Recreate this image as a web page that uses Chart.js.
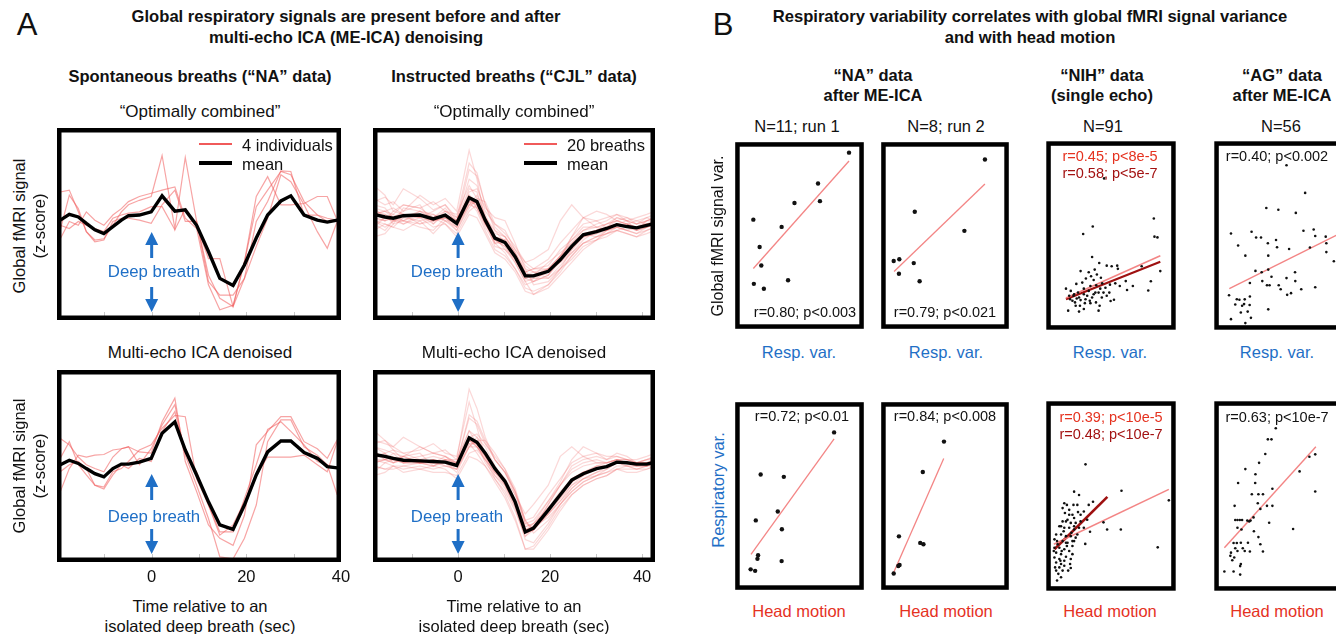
<!DOCTYPE html>
<html>
<head>
<meta charset="utf-8">
<script src="https://cdn.jsdelivr.net/npm/chart.js@4.4.1/dist/chart.umd.min.js"></script>
<style>
  html, body { margin: 0; padding: 0; background: #fff; }
  body { width: 1336px; height: 634px; position: relative; overflow: hidden;
         font-family: 'Liberation Sans', Arial, sans-serif; color: #111; }
  canvas { position: absolute; }
  .t { position: absolute; transform: translate(-50%, -50%); white-space: nowrap; font-size: 15px; line-height: 1; }
  .l { transform: translate(0, -50%); }
  .b { font-weight: bold; }
  .rot { transform: translate(-50%, -50%) rotate(-90deg); }
  .blue { color: #1f6fc6; }
  .red { color: #e5321f; }
  .dred { color: #a31212; }
  .lg { position: absolute; }
</style>
</head>
<body>
<script>
'use strict';
const FONT = "'Liberation Sans', Arial, sans-serif";

// ---------- Panel A data (z-score, time in sec) ----------
let timesNA = [-19.3,-17.4,-15.5,-13.8,-12.0,-10.1,-8.2,-6.4,-4.9,-2.6,-0.1,2.2,4.9,7.1,9.5,12.0,14.4,17.2,19.6,22.1,24.5,27.3,29.4,32.2,35.0,37.1,39.2];
let timesCJL = [-18.3,-15.9,-14.1,-11.9,-8.3,-5.4,-2.8,-0.3,2.4,4.1,5.9,8.0,10.2,12.4,14.6,16.4,19.6,22.2,24.7,27.2,30.1,32.3,34.5,36.7,38.8,41.0,42.8];

let meanNAoc = [0.06,0.15,0.11,0.01,-0.09,-0.15,-0.04,0.06,0.13,0.14,0.19,0.44,0.20,0.22,-0.02,-0.43,-0.85,-0.96,-0.64,-0.22,0.14,0.36,0.44,0.14,0.06,0.03,0.06];
let subjNAoc = [
  [0.50,0.53,0.19,-0.12,-0.25,-0.23,-0.02,0.19,0.30,0.37,0.43,1.07,-0.07,1.04,0.04,-0.80,-1.16,-1.29,-0.59,0.43,0.74,0.30,0.30,0.32,0.43,0.43,0.06],
  [-0.23,0.04,-0.02,0.19,0.06,-0.02,0.14,0.24,0.35,0.43,0.48,0.53,0.58,0.09,-0.07,-0.95,-1.34,-1.27,-0.59,0.27,0.53,0.82,0.77,0.35,0.14,0.09,0.06],
  [-0.09,0.45,0.24,-0.12,-0.28,-0.25,0.04,0.09,0.09,0.06,0.01,0.30,0.53,0.04,0.04,-0.90,-1.11,-1.11,-0.85,-0.35,0.09,0.77,0.66,0.30,-0.12,-0.38,0.04],
  [-0.02,-0.07,0.04,-0.02,-0.07,-0.12,0.09,0.14,0.17,0.19,0.27,0.27,-0.09,0.24,-0.02,-0.54,-0.54,-1.29,-0.85,0.04,0.35,0.83,0.82,0.14,0.14,0.04,0.06]
];

let meanNAme = [0.02,0.09,0.04,-0.04,-0.12,-0.17,-0.04,0.03,0.03,0.06,0.12,0.51,0.69,0.25,-0.14,-0.56,-0.92,-0.99,-0.61,-0.14,0.22,0.39,0.39,0.21,0.12,-0.01,-0.03];
let subjNAme = [
  [0.43,0.33,0.14,0.02,-0.04,-0.09,0.14,0.27,0.30,0.22,0.20,0.69,1.06,0.07,-0.40,-0.92,-1.13,-1.24,-0.77,0.33,0.54,0.77,0.77,0.38,0.27,0.12,0.41],
  [-0.40,-0.04,0.17,0.14,0.17,0.18,0.25,0.27,0.30,0.02,0.27,0.64,0.96,0.17,-0.30,-0.82,-1.42,-1.45,-1.13,-0.61,0.38,0.72,0.72,0.30,0.17,0.02,-0.45],
  [0.12,0.38,0.02,-0.14,-0.30,-0.33,-0.09,-0.04,0.07,0.25,0.33,0.59,0.79,0.77,-0.20,-0.61,-1.03,-1.03,-0.51,0.02,0.57,0.69,0.54,0.33,0.07,0.02,-0.04],
  [-0.09,0.02,0.07,-0.04,-0.30,-0.36,-0.14,0.02,-0.04,0.12,0.07,0.54,0.85,0.20,-0.09,-0.61,-1.08,-0.92,-0.56,-0.14,0.14,0.14,0.14,0.17,0.02,-0.09,0.38]
];

let meanCJLoc = [0.15,0.11,0.09,0.13,0.14,0.08,0.14,0.01,0.41,0.35,0.06,-0.22,-0.29,-0.51,-0.81,-0.81,-0.74,-0.56,-0.35,-0.17,-0.12,-0.07,-0.01,-0.04,-0.06,-0.02,0.01];
let breathsCJLoc = [
  [0.35,0.42,0.30,0.55,0.40,0.22,0.30,0.10,0.95,0.80,0.30,-0.10,-0.20,-0.45,-0.75,-0.90,-0.80,-0.50,-0.20,0.00,0.05,-0.05,0.10,0.05,-0.10,0.05,0.10],
  [0.00,-0.10,0.05,0.00,0.10,-0.05,0.00,-0.15,0.20,0.30,0.10,-0.30,-0.45,-0.70,-1.00,-1.05,-0.95,-0.70,-0.55,-0.35,-0.25,-0.20,-0.10,-0.15,-0.20,-0.10,-0.05],
  [0.25,0.20,0.15,0.30,0.25,0.35,0.20,0.05,0.70,0.60,0.20,0.00,-0.15,-0.35,-0.60,-0.70,-0.55,-0.30,-0.10,0.10,0.05,0.10,0.15,0.05,0.10,0.15,0.20],
  [-0.10,0.00,-0.05,-0.10,0.05,-0.15,0.05,-0.05,0.30,0.45,0.15,-0.20,-0.40,-0.60,-0.90,-1.10,-1.00,-0.80,-0.60,-0.40,-0.25,-0.10,-0.05,0.00,-0.10,-0.05,0.00],
  [0.40,0.30,0.35,0.20,0.45,0.30,0.40,0.20,1.15,0.70,0.05,-0.35,-0.40,-0.55,-0.85,-0.80,-0.60,-0.45,-0.30,-0.10,0.00,0.05,0.15,0.10,0.00,0.05,0.10],
  [0.10,0.05,0.20,0.15,0.00,0.10,0.25,0.00,0.50,0.55,0.25,0.10,0.05,-0.30,-0.70,-0.95,-0.90,-0.70,-0.40,-0.20,-0.15,-0.05,0.05,0.00,-0.05,0.00,0.05],
  [0.20,0.15,0.00,0.25,0.20,0.05,0.10,-0.05,0.35,0.20,-0.10,-0.40,-0.50,-0.70,-0.95,-0.90,-0.70,-0.50,-0.30,-0.15,-0.20,-0.15,-0.10,-0.15,-0.20,-0.15,-0.10],
  [-0.05,0.10,0.15,0.05,0.20,0.15,0.05,-0.10,0.25,0.40,0.35,0.00,-0.10,-0.40,-0.65,-0.75,-0.85,-0.65,-0.45,-0.25,-0.10,0.00,0.05,0.10,0.05,0.10,0.05],
  [0.30,0.25,0.10,0.05,0.15,0.00,0.20,0.15,0.60,0.40,0.00,-0.25,-0.35,-0.60,-0.90,-0.85,-0.75,-0.55,-0.20,0.10,0.20,0.15,0.05,0.00,0.05,0.00,-0.05],
  [0.05,0.00,-0.05,0.10,0.05,0.10,0.00,-0.20,0.15,0.10,-0.15,-0.45,-0.55,-0.75,-1.05,-1.10,-0.95,-0.75,-0.50,-0.30,-0.20,-0.15,-0.05,-0.10,-0.15,-0.10,-0.05],
  [0.15,0.20,0.25,0.15,0.10,0.20,0.30,0.05,0.85,0.75,0.30,-0.05,-0.20,-0.45,-0.75,-0.70,-0.65,-0.40,-0.25,-0.05,-0.05,0.00,0.10,0.05,0.00,0.10,0.15],
  [0.60,0.45,0.20,0.30,0.25,0.10,0.15,0.00,0.40,0.25,0.00,-0.20,-0.25,-0.45,-0.70,-0.75,-0.70,-0.60,-0.45,-0.30,-0.20,-0.10,0.00,-0.05,-0.05,0.00,0.00],
  [-0.20,-0.15,0.00,0.05,-0.05,-0.10,0.10,-0.10,0.30,0.35,0.05,-0.30,-0.30,-0.55,-0.85,-0.90,-0.80,-0.55,-0.35,-0.20,-0.15,-0.10,-0.05,-0.10,-0.15,-0.05,0.00],
  [0.10,0.15,0.10,0.20,0.30,0.00,0.15,0.05,0.55,0.50,0.10,-0.15,-0.20,-0.40,-0.60,-0.55,-0.40,0.05,0.30,0.10,-0.05,0.00,0.05,0.00,-0.05,0.05,0.10],
  [0.20,0.05,0.10,0.00,0.15,0.05,0.15,-0.05,0.40,0.30,0.00,-0.25,-0.35,-0.55,-0.80,-0.85,-0.85,-0.70,-0.50,-0.30,-0.25,-0.15,-0.10,-0.05,-0.10,-0.05,0.00],
  [0.00,0.10,0.05,0.15,0.10,0.15,0.05,0.05,0.45,0.25,-0.05,-0.30,-0.25,-0.50,-0.75,-0.70,-0.70,-0.50,-0.25,-0.10,-0.05,-0.10,0.00,-0.05,-0.10,-0.05,0.00],
  [0.25,0.10,0.05,0.10,0.20,0.10,0.20,0.10,0.35,0.35,0.10,-0.10,-0.30,-0.50,-0.80,-0.75,-0.80,-0.60,-0.40,-0.20,-0.10,-0.05,0.00,0.05,0.00,0.05,0.05],
  [0.05,-0.05,0.05,0.05,0.00,0.05,0.10,0.00,0.30,0.25,0.00,-0.25,-0.30,-0.50,-0.80,-0.80,-0.75,-0.55,-0.35,-0.15,-0.10,-0.10,-0.05,-0.10,-0.05,-0.05,0.00],
  [0.15,0.20,0.10,0.15,0.10,0.05,0.15,0.05,0.45,0.35,0.05,-0.20,-0.25,-0.50,-0.85,-0.80,-0.70,-0.50,-0.35,-0.15,-0.10,-0.05,0.00,0.00,-0.05,0.00,0.05],
  [0.10,0.05,0.10,0.15,0.15,0.05,0.10,0.00,0.35,0.30,0.05,-0.20,-0.30,-0.50,-0.80,-0.80,-0.70,-0.55,-0.35,-0.20,-0.10,-0.05,0.00,-0.05,-0.05,0.00,0.00]
];

let meanCJLme = [0.18,0.15,0.12,0.09,0.08,0.07,0.06,0.01,0.44,0.37,0.20,-0.04,-0.24,-0.56,-1.03,-0.97,-0.69,-0.45,-0.22,-0.12,-0.04,-0.01,0.06,0.05,0.03,0.03,0.06];
let breathsCJLme = [
  [0.40,0.35,0.30,0.45,0.30,0.20,0.25,0.10,1.20,0.90,0.45,0.10,-0.10,-0.40,-0.85,-1.00,-0.60,-0.30,0.00,0.10,0.15,0.10,0.20,0.15,0.05,0.10,0.15],
  [0.00,-0.05,0.00,-0.10,-0.05,-0.10,-0.10,-0.15,0.20,0.25,0.10,-0.20,-0.45,-0.80,-1.30,-1.25,-0.95,-0.65,-0.45,-0.30,-0.20,-0.15,-0.05,-0.10,-0.10,-0.05,0.00],
  [0.30,0.25,0.20,0.15,0.30,0.20,0.15,0.05,0.75,0.65,0.35,0.10,-0.10,-0.40,-0.85,-0.80,-0.45,-0.20,0.05,0.15,0.20,0.15,0.15,0.10,0.10,0.15,0.20],
  [0.10,0.05,0.00,-0.05,0.00,-0.05,0.00,-0.05,0.30,0.45,0.30,0.00,-0.30,-0.65,-1.15,-1.20,-0.90,-0.60,-0.40,-0.25,-0.15,-0.05,0.05,0.00,-0.05,0.00,0.05],
  [0.35,0.40,0.30,0.20,0.25,0.35,0.20,0.15,1.00,0.60,0.15,-0.15,-0.30,-0.60,-1.00,-0.90,-0.55,-0.25,0.10,0.30,0.20,0.10,0.15,0.10,0.05,0.10,0.15],
  [0.05,0.10,0.20,0.05,0.10,0.05,0.15,0.00,0.45,0.50,0.35,0.15,-0.05,-0.35,-0.85,-1.05,-0.85,-0.60,-0.35,-0.20,-0.10,0.00,0.10,0.05,0.05,0.05,0.10],
  [0.25,0.10,0.05,0.15,0.05,0.10,0.05,-0.05,0.35,0.20,0.00,-0.20,-0.40,-0.70,-1.10,-1.00,-0.75,-0.55,-0.35,-0.20,-0.15,-0.10,-0.05,0.00,-0.05,-0.05,0.00],
  [-0.10,0.05,0.10,0.15,0.05,0.10,0.00,-0.05,0.30,0.40,0.40,0.20,-0.05,-0.40,-0.90,-0.95,-0.75,-0.55,-0.30,-0.15,0.00,0.05,0.10,0.10,0.05,0.05,0.05],
  [0.30,0.20,0.05,0.10,0.05,0.00,0.10,0.10,0.55,0.35,0.05,-0.15,-0.35,-0.65,-1.10,-0.95,-0.60,-0.30,-0.05,0.05,0.10,0.05,0.10,0.05,0.00,0.00,0.05],
  [0.00,-0.05,-0.05,0.00,0.05,0.00,-0.05,-0.20,0.15,0.10,0.00,-0.25,-0.50,-0.85,-1.30,-1.30,-1.00,-0.70,-0.45,-0.30,-0.20,-0.15,-0.05,-0.05,-0.05,0.00,0.00],
  [0.15,0.20,0.25,0.10,0.15,0.20,0.15,0.05,0.80,0.70,0.40,0.10,-0.10,-0.45,-0.90,-0.85,-0.55,-0.30,-0.10,0.00,0.05,0.05,0.10,0.10,0.05,0.10,0.10],
  [0.55,0.40,0.25,0.20,0.10,0.15,0.10,0.00,0.40,0.30,0.10,-0.10,-0.25,-0.55,-0.95,-0.90,-0.70,-0.50,-0.30,-0.20,-0.10,-0.05,0.05,0.00,0.00,0.00,0.05],
  [-0.15,-0.10,0.00,0.00,-0.05,0.00,0.05,-0.10,0.30,0.30,0.15,-0.10,-0.30,-0.60,-1.05,-1.00,-0.75,-0.50,-0.25,-0.15,-0.05,0.00,0.05,0.05,0.00,0.00,0.05],
  [0.10,0.20,0.10,0.15,0.20,0.00,0.10,0.05,0.55,0.45,0.20,0.00,-0.20,-0.45,-0.75,-0.60,-0.30,0.15,0.30,0.15,0.05,0.05,0.10,0.05,0.05,0.05,0.10],
  [0.20,0.10,0.15,0.05,0.05,0.10,0.05,0.00,0.40,0.30,0.15,-0.05,-0.25,-0.55,-1.00,-0.95,-0.80,-0.60,-0.40,-0.25,-0.15,-0.10,0.00,0.00,0.00,0.00,0.05],
  [0.05,0.10,0.05,0.10,0.05,0.10,0.05,0.05,0.45,0.30,0.10,-0.10,-0.25,-0.55,-0.95,-0.90,-0.65,-0.40,-0.20,-0.10,-0.05,0.00,0.05,0.05,0.05,0.05,0.05],
  [0.20,0.15,0.10,0.05,0.10,0.05,0.10,0.05,0.35,0.35,0.20,-0.05,-0.25,-0.55,-1.00,-0.95,-0.70,-0.45,-0.25,-0.10,0.00,0.00,0.05,0.05,0.05,0.05,0.10],
  [0.10,0.10,0.10,0.05,0.05,0.05,0.00,0.00,0.40,0.35,0.20,-0.05,-0.25,-0.55,-1.00,-0.95,-0.65,-0.45,-0.20,-0.10,-0.05,0.00,0.05,0.05,0.05,0.05,0.05],
  [0.20,0.15,0.10,0.10,0.10,0.05,0.05,0.00,0.45,0.35,0.15,-0.05,-0.25,-0.55,-1.05,-1.00,-0.70,-0.45,-0.20,-0.10,0.00,0.00,0.05,0.05,0.00,0.05,0.05],
  [0.15,0.15,0.10,0.10,0.05,0.05,0.05,0.00,0.40,0.35,0.20,-0.05,-0.25,-0.55,-1.00,-1.00,-0.70,-0.45,-0.25,-0.10,-0.05,0.00,0.05,0.05,0.05,0.00,0.05]
];

// ---------- Panel B data (normalised units, 0-100) ----------
let naRun1Resp = [[88.5,94.4],[64.4,77.9],[46.1,67.4],[65.9,68.4],[14.1,58.5],[36.1,54.6],[19.0,43.8],[20.3,33.9],[14.5,24.1],[22.3,21.5],[41.1,26.0]];
let naRun1RespFit = [[14.1,32.3],[88.5,89.9]];
let naRun2Resp = [[81.3,90.7],[26.3,62.7],[65.2,52.5],[9.8,36.3],[14.2,37.3],[25.5,35.2],[13.9,29.5],[30.1,25.5]];
let naRun2RespFit = [[10.1,30.7],[81.3,77.6]];
let nihResp = [[83.1,59.0],[83.6,49.4],[85.9,49.0],[88.1,31.1],[35.9,54.8],[28.5,50.8],[44.7,80.3],[35.4,38.6],[40.9,35.4],[26.5,31.1],[34.6,28.4],[37.4,31.9],[46.7,34.0],[50.5,33.7],[54.8,34.0],[55.3,32.3],[30.6,27.2],[36.6,26.4],[42.2,27.6],[15.2,21.8],[23.2,24.3],[29.0,21.8],[34.1,23.2],[38.6,23.6],[43.2,24.6],[49.2,23.9],[53.3,24.6],[61.4,25.8],[73.7,33.7],[62.4,21.1],[78.8,20.8],[80.8,25.7],[18.9,20.6],[21.5,18.8],[23.5,16.6],[25.3,17.1],[18.4,16.2],[20.2,15.4],[22.2,14.5],[26.5,15.7],[29.0,18.8],[31.6,18.0],[33.6,15.4],[36.6,18.8],[37.9,19.7],[40.4,19.7],[41.7,21.8],[45.7,22.3],[48.7,19.7],[52.3,15.9],[49.7,15.2],[38.4,14.5],[41.2,12.7],[40.4,10.1],[34.1,14.1],[29.8,14.1],[25.3,9.6],[16.9,10.1],[29.0,11.0],[22.7,12.7],[21.0,18.0],[24.5,19.7],[32.8,20.6],[44.2,19.7],[46.7,18.0],[27.8,25.0],[39.1,29.3],[32.8,30.5],[56.8,23.2],[17.7,18.0],[26.0,12.7],[35.4,17.1],[30.3,16.2],[42.9,17.1],[66.9,23.2]];
let nihRespFitA = [[15.2,16.8],[88.1,39.3]];
let nihRespFitB = [[15.2,16.2],[88.1,36.1]];
let agResp = [[55.8,87.3],[70.2,72.6],[40.2,64.6],[49.5,63.7],[12.9,51.1],[28.8,52.0],[32.3,48.9],[36.1,48.9],[41.4,45.9],[47.7,47.6],[18.4,44.7],[48.5,43.8],[57.8,42.8],[68.9,52.5],[76.8,53.2],[78.0,49.7],[73.9,43.6],[86.6,45.9],[86.6,41.2],[92.4,36.3],[24.0,39.3],[41.7,39.3],[36.6,30.5],[41.7,31.9],[31.8,31.2],[44.2,28.1],[55.8,27.4],[62.4,30.5],[62.6,25.8],[27.5,24.8],[37.1,25.8],[40.7,23.6],[42.7,23.6],[49.8,23.6],[51.3,21.5],[56.3,18.5],[59.3,19.4],[67.2,21.5],[78.0,22.5],[11.4,18.3],[17.4,16.2],[19.4,15.9],[23.5,16.1],[27.5,17.6],[16.2,13.4],[21.5,12.7],[23.0,13.6],[27.3,13.1],[20.5,9.1],[25.8,9.6],[28.3,6.3],[24.0,3.5],[12.9,5.6],[41.7,10.8],[86.1,49.4],[63.0,62.0]];
let agRespFit = [[11.6,21.8],[100,52.0]];

let naRun1Motion = [[76.9,83.9],[19.8,61.5],[37.8,60.2],[33.1,41.7],[16.0,37.0],[36.3,32.3],[17.8,18.4],[17.3,16.5],[36.1,15.3],[12.0,10.9],[15.5,10.1]];
let naRun1MotionFit = [[12.3,18.9],[76.9,80.4]];
let naRun2Motion = [[49.2,79.0],[32.6,62.8],[13.9,28.5],[30.6,25.0],[33.1,24.3],[13.4,12.7],[14.4,13.2],[9.8,8.7]];
let naRun2MotionFit = [[9.6,8.9],[49.0,70.0]];
let nihMotion = [[30.3,66.7],[58.1,52.8],[94.7,47.7],[86.1,22.9],[57.6,32.3],[47.0,32.3],[44.2,36.1],[33.8,31.1],[30.1,24.7],[21.5,52.3],[25.3,50.5],[36.1,47.0],[32.8,45.3],[24.0,45.3],
  [13.9,46.2],[15.9,45.3],[12.6,43.6],[17.7,42.7],[14.4,41.0],[20.2,40.1],[26.5,40.1],[21.5,38.4],[16.4,37.5],[12.6,36.6],[15.2,36.6],[18.9,35.8],[22.7,35.8],[10.1,34.0],[13.9,33.2],[17.7,33.2],[21.5,32.3],[25.3,33.2],[7.6,29.7],[11.4,29.7],[15.2,28.8],[18.9,28.8],[22.7,28.0],[8.3,26.2],[12.6,26.2],[16.4,25.3],[20.2,26.2],[6.3,22.7],[10.1,22.7],[13.9,21.9],[17.7,21.0],[20.2,19.3],[7.6,20.1],[11.4,19.3],[15.2,17.9],[6.3,17.5],[10.1,16.7],[13.9,15.8],[18.9,16.7],[7.6,14.9],[11.4,14.1],[6.8,12.3],[10.1,12.3],[13.9,13.2],[18.9,12.0],[7.6,10.6],[12.6,10.6],[11.4,7.1],[21.5,26.2],[24.0,29.7],[29.0,41.8],[26.5,36.6],[31.6,37.5],
  [8.8,24.5],[11.9,21.0],[15.9,23.6],[18.4,14.1],[9.3,8.9],[5.8,21.0],[21.5,34.0],[17.7,40.1],[19.4,30.6],[13.4,31.4],[10.9,15.8],[16.9,10.6],[24.5,41.5],[8.3,5.4],[21.0,45.3],[15.2,25.3],[6.3,27.1],[29.0,33.2],[20.2,23.6],[11.4,34.0]];
let nihMotionFitA = [[5.8,24.5],[94.7,53.5]];
let nihMotionFitB = [[6.3,21.9],[47.2,49.5]];
let agMotion = [[47.5,85.8],[41.4,79.9],[44.2,79.9],[39.4,72.2],[73.5,70.7],[78.0,72.0],[34.6,67.5],[24.0,64.2],[31.8,61.5],[65.9,63.0],[18.4,56.9],[31.6,56.9],[44.9,53.8],[29.0,50.9],[34.1,50.9],[37.6,50.9],[78.0,52.4],[33.6,46.2],[40.7,44.8],[44.9,44.8],[15.7,44.8],[35.6,43.2],[16.2,37.3],[17.9,37.3],[19.7,37.3],[21.5,37.3],[25.5,37.0],[28.0,37.0],[30.3,38.7],[42.4,35.9],[17.9,33.2],[21.0,32.3],[60.9,32.6],[27.0,36.6],[14.9,25.2],[17.4,25.2],[20.5,25.3],[16.2,22.4],[26.0,25.3],[22.0,22.4],[34.1,28.3],[27.5,20.7],[37.6,20.7],[12.9,20.1],[17.9,21.0],[12.4,18.4],[13.9,16.1],[20.5,14.1],[20.0,13.0],[7.8,10.1],[14.9,10.1],[20.0,8.5],[15.4,17.5],[23.5,21.0],[35.6,24.5],[30.6,31.4]];
let agMotionFit = [[7.8,22.7],[78.5,76.0]];

// ---------- helpers ----------
function txt(x, y, s, cls, size) {
  const d = document.createElement('div');
  d.className = 't ' + (cls || '');
  d.style.left = x + 'px';
  d.style.top = y + 'px';
  if (size) d.style.fontSize = size + 'px';
  d.textContent = s;
  document.body.appendChild(d);
}
function legendLine(x, y, w, color, lw) {
  const d = document.createElement('div');
  d.className = 'lg';
  d.style.left = x + 'px';
  d.style.top = Math.round(y - lw / 2) + 'px';
  d.style.width = w + 'px';
  d.style.height = lw + 'px';
  d.style.background = color;
  document.body.appendChild(d);
}
function makeCanvas(x, y, w, h) {
  const c = document.createElement('canvas');
  c.width = w; c.height = h;
  c.style.left = x + 'px'; c.style.top = y + 'px';
  c.style.width = w + 'px'; c.style.height = h + 'px';
  document.body.appendChild(c);
  return c.getContext('2d');
}
const pts = arr => arr.map(p => ({x: p[0], y: p[1]}));

// frame, inner ticks and deep breath arrows
const framePlugin = {
  id: 'frame',
  afterDatasetsDraw(chart, args, opts) {
    const ctx = chart.ctx, a = chart.chartArea;
    ctx.save();
    if (opts.ticks) {
      ctx.strokeStyle = '#c8c8c8';
      ctx.lineWidth = 1;
      opts.ticks.forEach(v => {
        const px = Math.round(chart.scales.x.getPixelForValue(v)) + 0.5;
        ctx.beginPath(); ctx.moveTo(px, a.bottom - 4); ctx.lineTo(px, a.bottom - 8); ctx.stroke();
      });
    }
    if (opts.arrow) {
      const x0 = chart.scales.x.getPixelForValue(0), t = a.top;
      ctx.fillStyle = '#1f6fc6';
      ctx.fillRect(x0 - 1.5, t + 114, 3, 16);
      ctx.beginPath(); ctx.moveTo(x0, t + 104); ctx.lineTo(x0 - 6.5, t + 117); ctx.lineTo(x0 + 6.5, t + 117); ctx.fill();
      ctx.fillRect(x0 - 1.5, t + 159, 3, 14);
      ctx.beginPath(); ctx.moveTo(x0, t + 184); ctx.lineTo(x0 - 6.5, t + 171); ctx.lineTo(x0 + 6.5, t + 171); ctx.fill();
    }
    ctx.strokeStyle = '#000';
    ctx.lineWidth = 4.5;
    ctx.strokeRect(a.left + 2.25, a.top + 2.25, a.width - 4.5, a.height - 4.5);
    ctx.restore();
  }
};
Chart.register(framePlugin);

function lineChart(box, times, mean, traces, xmin, xmax, traceColor, showLabels, ticks) {
  const [bx, by, bw, bh] = box;
  const axisH = showLabels ? 30 : 0;
  const ctx = makeCanvas(bx - 20, by, bw + 40, bh + axisH);
  const datasets = [{
    data: mean.map((v, i) => ({x: times[i], y: v})),
    borderColor: '#000', borderWidth: 3.4, pointRadius: 0, tension: 0
  }];
  traces.forEach(tr => datasets.push({
    data: tr.map((v, i) => ({x: times[i], y: v})),
    borderColor: traceColor, borderWidth: 1.2, pointRadius: 0, tension: 0
  }));
  new Chart(ctx, {
    type: 'line',
    data: {datasets},
    options: {
      responsive: false, animation: false, events: [],
      layout: {padding: {left: 20, right: 20, top: 0, bottom: 0}},
      plugins: {legend: {display: false}, tooltip: {enabled: false}, frame: {arrow: true, ticks}},
      scales: {
        x: {
          type: 'linear', min: xmin, max: xmax, display: showLabels,
          grid: {display: false, drawTicks: false}, border: {display: false},
          ticks: {stepSize: 10, includeBounds: false, autoSkip: false, maxRotation: 0, padding: 6, color: '#111',
                  font: {size: 16.5, family: FONT},
                  callback: v => [0, 20, 40].includes(v) ? String(v) : ''},
          afterFit: s => { s.height = axisH; }
        },
        y: {min: -1.5, max: 1.5, display: false}
      }
    }
  });
}

function scatterChart(box, data, radius, fits) {
  const [bx, by, bw, bh] = box;
  const ctx = makeCanvas(bx, by, bw, bh);
  const datasets = [{
    data: pts(data), pointRadius: radius, backgroundColor: '#111', borderWidth: 0, pointHoverRadius: 0
  }];
  fits.forEach(f => datasets.push({
    type: 'line', data: pts(f.data), borderColor: f.color, borderWidth: f.width,
    pointRadius: 0, showLine: true, tension: 0
  }));
  new Chart(ctx, {
    type: 'scatter',
    data: {datasets},
    options: {
      responsive: false, animation: false, events: [],
      layout: {padding: 0},
      plugins: {legend: {display: false}, tooltip: {enabled: false}, frame: {arrow: false}},
      scales: {x: {min: 0, max: 100, display: false}, y: {min: 0, max: 100, display: false}}
    }
  });
}

// ---------- Panel A ----------
const naTrace = 'rgba(240,90,90,0.55)';
const cjlTrace = 'rgba(240,100,100,0.25)';
lineChart([57, 128, 284, 192], timesNA, meanNAoc, subjNAoc, -20, 40, naTrace, false, [-10, 0, 10, 20, 30]);
lineChart([373, 128, 282, 192], timesCJL, meanCJLoc, breathsCJLoc, -18.5, 42.8, cjlTrace, false, [-10, 0, 10, 20, 30, 40]);
lineChart([57, 370, 284, 192], timesNA, meanNAme, subjNAme, -20, 40, naTrace, true, [-10, 0, 10, 20, 30]);
lineChart([373, 370, 282, 192], timesCJL, meanCJLme, breathsCJLme, -18.5, 42.8, cjlTrace, true, [-10, 0, 10, 20, 30, 40]);

txt(27, 24, 'A', '', 31);
txt(346, 17, 'Global respiratory signals are present before and after', 'b', 16.6);
txt(346, 38, 'multi-echo ICA (ME-ICA) denoising', 'b', 16.6);
txt(200, 76, 'Spontaneous breaths (\u201cNA\u201d data)', 'b', 16.5);
txt(514, 76, 'Instructed breaths (\u201cCJL\u201d data)', 'b', 16.5);
txt(200, 111, '\u201cOptimally combined\u201d', '', 17);
txt(514, 111, '\u201cOptimally combined\u201d', '', 17);
txt(200, 352, 'Multi-echo ICA denoised', '', 17);
txt(514, 352, 'Multi-echo ICA denoised', '', 17);
[226, 466].forEach(y => {
  txt(19, y, 'Global fMRI signal', 'rot', 16.5);
  txt(39, y, '(z-score)', 'rot', 16.5);
});
[200, 514].forEach(x => {
  txt(x, 606, 'Time relative to an', '', 16.5);
  txt(x, 626, 'isolated deep breath (sec)', '', 16.5);
});
[[154, 272], [457, 272], [154, 517], [457, 517]].forEach(p => txt(p[0], p[1], 'Deep breath', 'blue', 16.8));

legendLine(199, 144, 33, '#f05a5a', 1.5);
legendLine(199, 163, 33, '#000', 3.5);
txt(242, 145, '4 individuals', 'l', 16.5);
txt(242, 164, 'mean', 'l', 16.5);
legendLine(524, 144, 33, '#f05a5a', 1.5);
legendLine(524, 163, 33, '#000', 3.5);
txt(567, 145, '20 breaths', 'l', 16.5);
txt(567, 164, 'mean', 'l', 16.5);

// ---------- Panel B ----------
const lightFit = 'rgba(242,120,120,0.9)';
const darkFit = '#9e1010';
scatterChart([733, 140, 133, 191], naRun1Resp, 2.2, [{data: naRun1RespFit, color: lightFit, width: 1.3}]);
scatterChart([879, 140, 132, 191], naRun2Resp, 2.2, [{data: naRun2RespFit, color: lightFit, width: 1.3}]);
scatterChart([1045, 140, 132, 191], nihResp, 1.3, [{data: nihRespFitA, color: lightFit, width: 1.6}, {data: nihRespFitB, color: darkFit, width: 2.2}]);
scatterChart([1213, 140, 132, 191], agResp, 1.3, [{data: agRespFit, color: lightFit, width: 1.4}]);
scatterChart([733, 400, 133, 192], naRun1Motion, 2.2, [{data: naRun1MotionFit, color: lightFit, width: 1.3}]);
scatterChart([879, 400, 132, 192], naRun2Motion, 2.2, [{data: naRun2MotionFit, color: lightFit, width: 1.3}]);
scatterChart([1045, 400, 132, 192], nihMotion, 1.3, [{data: nihMotionFitA, color: lightFit, width: 1.6}, {data: nihMotionFitB, color: darkFit, width: 2.6}]);
scatterChart([1213, 400, 132, 192], agMotion, 1.3, [{data: agMotionFit, color: lightFit, width: 1.4}]);

txt(723, 24, 'B', '', 31);
txt(1030, 17, 'Respiratory variability correlates with global fMRI signal variance', 'b', 16.6);
txt(1030, 38, 'and with head motion', 'b', 16.6);
txt(873, 75, '\u201cNA\u201d data', 'b', 16.5);
txt(873, 95, 'after ME-ICA', 'b', 16.5);
txt(1102, 75, '\u201cNIH\u201d data', 'b', 16.5);
txt(1102, 95, '(single echo)', 'b', 16.5);
txt(1282, 75, '\u201cAG\u201d data', 'b', 16.5);
txt(1282, 95, 'after ME-ICA', 'b', 16.5);
txt(797, 126, 'N=11; run 1', '', 16.5);
txt(946, 126, 'N=8; run 2', '', 16.5);
txt(1103, 126, 'N=91', '', 16.5);
txt(1281, 126, 'N=56', '', 16.5);
[799, 946, 1110, 1277].forEach(x => {
  txt(x, 352, 'Resp. var.', 'blue', 16.5);
  txt(x, 611, 'Head motion', 'red', 16.5);
});
txt(718, 236, 'Global fMRI signal var.', 'rot', 16);
txt(718, 490, 'Respiratory var.', 'rot blue', 16.5);

txt(805, 312, 'r=0.80; p<0.003', '', 14.5);
txt(945, 312, 'r=0.79; p<0.021', '', 14.5);
txt(1110, 156, 'r=0.45; p<8e-5', 'red', 14.5);
txt(1110, 173, 'r=0.58; p<5e-7', 'dred', 14.5);
txt(1277, 156, 'r=0.40; p<0.002', '', 14.5);
txt(802, 416, 'r=0.72; p<0.01', '', 14.5);
txt(945, 416, 'r=0.84; p<0.008', '', 14.5);
txt(1111, 417, 'r=0.39; p<10e-5', 'red', 14.5);
txt(1111, 434, 'r=0.48; p<10e-7', 'dred', 14.5);
txt(1277, 417, 'r=0.63; p<10e-7', '', 14.5);
</script>
</body>
</html>
